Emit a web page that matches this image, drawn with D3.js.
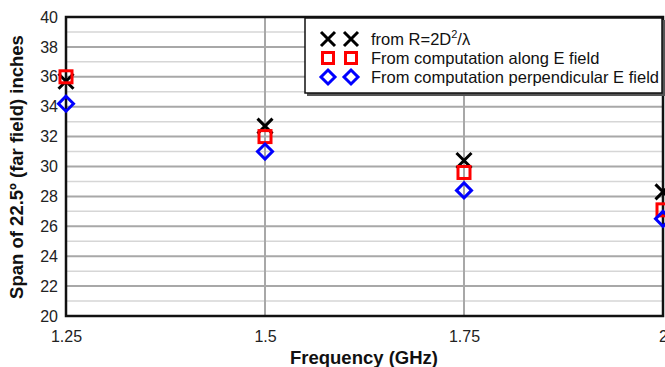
<!DOCTYPE html>
<html>
<head>
<meta charset="utf-8">
<style>
  body { margin: 0; background: #fff; font-family: 'Liberation Sans', Arial, sans-serif; }
  svg { display: block; }
  .tick text { fill: #222; font-size: 16px; }
</style>
</head>
<body>
<svg id="chart" width="665" height="367"></svg>
<script src="https://d3js.org/d3.v7.min.js"></script>
<script>
const freqs = [1.25, 1.5, 1.75, 2];
const farField = [35.7, 32.7, 30.4, 28.3];
const alongE = [36.0, 32.0, 29.6, 27.1];
const perpE = [34.2, 31.0, 28.4, 26.5];
const xTicks = [1.25, 1.5, 1.75, 2];
const yTicks = [20, 22, 24, 26, 28, 30, 32, 34, 36, 38, 40];
const legendLabels = ['from R=2D', 'From computation along E field', 'From computation perpendicular E field'];

const svg = d3.select('#chart');
const m = { left: 66, right: 663, top: 17, bottom: 316 };

const x = d3.scaleLinear().domain([1.25, 2]).range([m.left, m.right]);
const y = d3.scaleLinear().domain([20, 40]).range([m.bottom, m.top]);

// grid: minor every 1, major every 2
const grid = svg.append('g');
grid.selectAll('line.minor')
  .data(d3.range(21, 40, 2))
  .enter().append('line')
  .attr('x1', m.left).attr('x2', m.right)
  .attr('y1', d => y(d)).attr('y2', d => y(d))
  .attr('stroke', '#d6d6d6').attr('stroke-width', 1.5);
grid.selectAll('line.major')
  .data(yTicks.slice(1, -1))
  .enter().append('line')
  .attr('x1', m.left).attr('x2', m.right)
  .attr('y1', d => y(d)).attr('y2', d => y(d))
  .attr('stroke', '#a8a8a8').attr('stroke-width', 2);
grid.selectAll('line.vert')
  .data(xTicks.slice(1, -1))
  .enter().append('line')
  .attr('x1', d => x(d)).attr('x2', d => x(d))
  .attr('y1', m.top).attr('y2', m.bottom)
  .attr('stroke', '#a8a8a8').attr('stroke-width', 2);

// frame
svg.append('rect')
  .attr('x', m.left).attr('y', m.top)
  .attr('width', m.right - m.left).attr('height', m.bottom - m.top)
  .attr('fill', 'none').attr('stroke', '#111').attr('stroke-width', 2.5);

// axes
const yAxis = svg.append('g')
  .attr('transform', `translate(${m.left},0)`)
  .call(d3.axisLeft(y).tickValues(yTicks).tickSize(0).tickPadding(8));
yAxis.select('.domain').remove();

const xAxis = svg.append('g')
  .attr('transform', `translate(0,${m.bottom})`)
  .call(d3.axisBottom(x).tickValues(xTicks).tickSize(0).tickPadding(15).tickFormat(d => String(d)));
xAxis.select('.domain').remove();

svg.append('text')
  .attr('x', 364).attr('y', 364)
  .attr('text-anchor', 'middle')
  .attr('font-size', 18.5).attr('font-weight', 'bold')
  .attr('fill', '#111')
  .text('Frequency (GHz)');

svg.append('text')
  .attr('transform', 'translate(23,167) rotate(-90)')
  .attr('text-anchor', 'middle')
  .attr('font-size', 18.5).attr('font-weight', 'bold')
  .attr('fill', '#111')
  .text('Span of 22.5\u00BA (far field) inches');

// markers
function drawX(g, cx, cy, s) {
  g.append('path')
    .attr('d', `M${cx - s},${cy - s}L${cx + s},${cy + s}M${cx - s},${cy + s}L${cx + s},${cy - s}`)
    .attr('stroke', '#000').attr('stroke-width', 3).attr('fill', 'none');
}
function drawSquare(g, cx, cy, s) {
  g.append('rect')
    .attr('x', cx - s).attr('y', cy - s).attr('width', 2 * s).attr('height', 2 * s)
    .attr('stroke', '#ff0000').attr('stroke-width', 3).attr('fill', 'none');
}
function drawDiamond(g, cx, cy, s) {
  g.append('path')
    .attr('d', `M${cx},${cy - s}L${cx + s},${cy}L${cx},${cy + s}L${cx - s},${cy}Z`)
    .attr('stroke', '#0000ff').attr('stroke-width', 3).attr('fill', 'none');
}

const marks = svg.append('g');
freqs.forEach((f, i) => drawX(marks, x(f), y(farField[i]), 7.5));
freqs.forEach((f, i) => drawSquare(marks, x(f), y(alongE[i]), 6));
freqs.forEach((f, i) => drawDiamond(marks, x(f), y(perpE[i]), 7.5));

// legend
const lg = svg.append('g');
lg.append('rect')
  .attr('x', 307).attr('y', 20).attr('width', 360).attr('height', 76)
  .attr('fill', '#555');
lg.append('rect')
  .attr('x', 305).attr('y', 18).attr('width', 357).attr('height', 75)
  .attr('fill', '#fff').attr('stroke', '#111').attr('stroke-width', 1.5);

const rowY = [39, 58, 77];
const drawers = [drawX, drawSquare, drawDiamond];
const sizes = [7, 5.5, 7];
rowY.forEach((ry, i) => {
  [328, 351].forEach(mx => drawers[i](lg, mx, ry, sizes[i]));
  const t = lg.append('text')
    .attr('x', 371).attr('y', ry + 6)
    .attr('font-size', 16.5).attr('fill', '#111')
    .text(legendLabels[i]);
  if (i === 0) {
    t.append('tspan').attr('font-size', 11).attr('dy', -7).text('2');
    t.append('tspan').attr('dy', 7).text('/\u03BB');
  }
});
</script>
</body>
</html>
